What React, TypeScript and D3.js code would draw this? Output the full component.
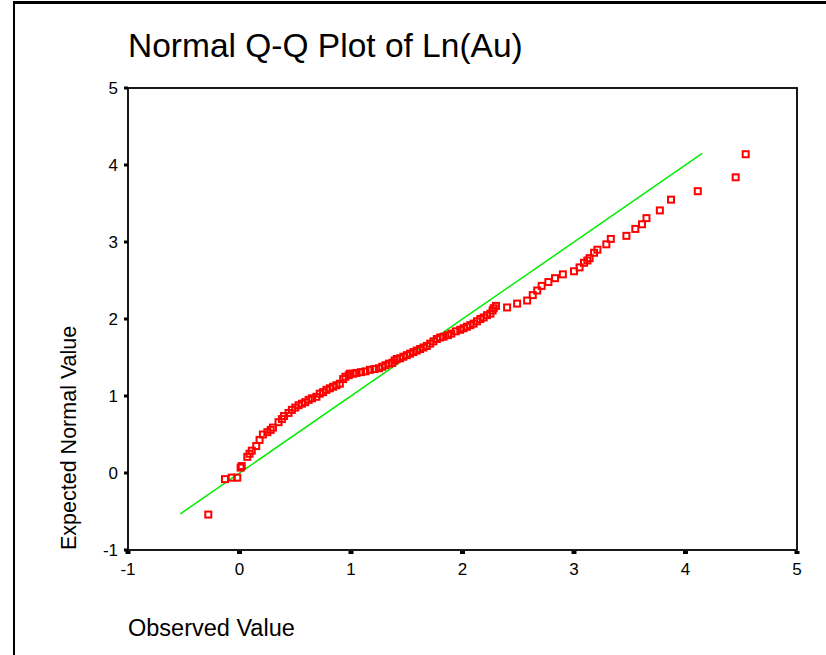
import * as d3 from "d3";

const observed = [
  -0.28, -0.13, -0.07, -0.02, 0.01, 0.02, 0.07, 0.09, 0.11, 0.15, 0.18, 0.21,
  0.25, 0.28, 0.3, 0.35, 0.38, 0.4, 0.44, 0.47, 0.5, 0.53, 0.56, 0.59, 0.62,
  0.65, 0.69, 0.72, 0.75, 0.78, 0.81, 0.84, 0.87, 0.9, 0.93, 0.95, 0.98, 0.99,
  1.02, 1.05, 1.09, 1.13, 1.17, 1.21, 1.25, 1.28, 1.31, 1.34, 1.37, 1.39, 1.41,
  1.44, 1.47, 1.5, 1.53, 1.56, 1.59, 1.62, 1.65, 1.68, 1.71, 1.74, 1.77, 1.8,
  1.83, 1.87, 1.9, 1.94, 1.98, 2.01, 2.04, 2.07, 2.1, 2.13, 2.16, 2.19, 2.22,
  2.25, 2.27, 2.28, 2.3, 2.4, 2.49, 2.58, 2.63, 2.67, 2.71, 2.77, 2.83, 2.9,
  3.0, 3.05, 3.09, 3.12, 3.14, 3.18, 3.21, 3.29, 3.33, 3.47, 3.55, 3.61, 3.65,
  3.77, 3.87, 4.11, 4.45, 4.54,
];
const expected = [
  -0.54, -0.08, -0.06, -0.06, 0.07, 0.09, 0.21, 0.25, 0.29, 0.35, 0.43, 0.5,
  0.53, 0.56, 0.59, 0.66, 0.7, 0.74, 0.78, 0.82, 0.85, 0.88, 0.9, 0.92, 0.95,
  0.97, 0.99, 1.03, 1.05, 1.08, 1.1, 1.12, 1.14, 1.16, 1.22, 1.25, 1.27, 1.29,
  1.29, 1.3, 1.31, 1.32, 1.34, 1.35, 1.36, 1.38, 1.4, 1.42, 1.43, 1.46, 1.48,
  1.49, 1.51, 1.53, 1.55, 1.57, 1.59, 1.61, 1.63, 1.65, 1.68, 1.71, 1.74, 1.76,
  1.77, 1.79, 1.81, 1.84, 1.86, 1.88, 1.9, 1.92, 1.94, 1.97, 2.0, 2.02, 2.05,
  2.07, 2.11, 2.14, 2.17, 2.15, 2.2, 2.24, 2.31, 2.37, 2.43, 2.48, 2.53, 2.58,
  2.62, 2.67, 2.73, 2.76, 2.79, 2.86, 2.9, 2.97, 3.04, 3.08, 3.17, 3.23, 3.31,
  3.41, 3.55, 3.66, 3.84, 4.14,
];

// reference line y = x, ends
const lineX = [-0.53, 4.15];
const ticks = [-1, 0, 1, 2, 3, 4, 5];

const W = 826;
const H = 655;
const font = "'Liberation Sans', Arial, sans-serif";

export default function App() {
  const x = d3.scaleLinear().domain([-1, 5]).range([128, 797]);
  const y = d3.scaleLinear().domain([-1, 5]).range([550, 88]);

  const points = observed.map((v, i) => ({ x: v, y: expected[i] }));
  const refLine = d3
    .line<number>()
    .x((d) => x(d))
    .y((d) => y(d))(lineX);

  return (
    <svg
      width={W}
      height={H}
      style={{ position: "absolute", left: 0, top: 0, background: "#fff" }}
      fontFamily={font}
    >
      {/* outer frame, cropped on the right and bottom */}
      <line x1={14} y1={2.5} x2={W} y2={2.5} stroke="#000" strokeWidth={3} />
      <line x1={14} y1={1} x2={14} y2={H} stroke="#000" strokeWidth={2} />

      <text x={128} y={57} fontSize={33.5} fill="#000">
        Normal Q-Q Plot of Ln(Au)
      </text>

      {/* plot box */}
      <rect
        x={x(-1)}
        y={y(5)}
        width={x(5) - x(-1)}
        height={y(-1) - y(5)}
        fill="none"
        stroke="#000"
        strokeWidth={1.8}
      />

      {ticks.map((t) => (
        <g key={"y" + t}>
          <rect x={x(-1) - 4} y={y(t) - 1.5} width={4} height={3} fill="#000" />
          <text
            x={118}
            y={y(t) + 6}
            fontSize={17}
            textAnchor="end"
            fill="#000"
          >
            {t}
          </text>
        </g>
      ))}
      {ticks.map((t) => (
        <g key={"x" + t}>
          <rect x={x(t) - 2.5} y={y(-1) + 1} width={5} height={3} fill="#000" />
          <text
            x={x(t)}
            y={575}
            fontSize={17}
            textAnchor="middle"
            fill="#000"
          >
            {t}
          </text>
        </g>
      ))}

      <path d={refLine ?? ""} stroke="#00ee00" strokeWidth={1.5} fill="none" />

      {points.map((p, i) => (
        <rect
          key={i}
          x={x(p.x) - 3}
          y={y(p.y) - 3}
          width={6}
          height={6}
          fill="none"
          stroke="#ff0000"
          strokeWidth={2}
        />
      ))}

      <text
        transform={`translate(76,550) rotate(-90)`}
        fontSize={21.5}
        fill="#000"
      >
        Expected Normal Value
      </text>
      <text x={128} y={636} fontSize={23.5} fill="#000">
        Observed Value
      </text>
    </svg>
  );
}
